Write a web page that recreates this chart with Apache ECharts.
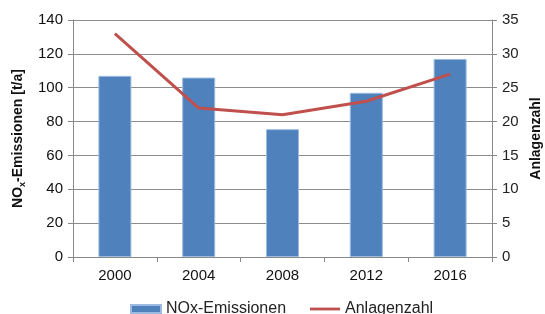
<!DOCTYPE html>
<html>
<head>
    <meta charset="utf-8">
    <script src="https://cdn.jsdelivr.net/npm/echarts@6/dist/echarts.min.js"></script>
</head>
<body style="margin:0;background:#fff;">

<div id="main" style="width:545px;height:314px;"></div>

<script type="text/javascript">
    var years = ['2000', '2004', '2008', '2012', '2016'];
    var noxValues = [107, 106, 75.5, 97, 117];
    var anlagenValues = [33, 22, 21, 23, 27];

    var myChart = echarts.init(document.getElementById('main'));
    var fontFam = 'Liberation Sans, Arial, sans-serif';

    var option = {
        animation: false,
        textStyle: { fontFamily: fontFam },
        grid: { left: 73, right: 53, top: 20, bottom: 57, outerBoundsMode: 'none' },
        legend: {
            top: 296,
            left: 125,
            itemGap: 24,
            itemWidth: 30,
            itemHeight: 8,
            textStyle: { fontSize: 16, color: '#222', fontFamily: fontFam },
            data: [
                { name: 'NOx-Emissionen', icon: 'rect' },
                // thin line icon, the extra points keep the full 30x8 box
                { name: 'Anlagenzahl', icon: 'path://M0,0L0,0M0,2.6h30v2.8h-30zM30,8L30,8' }
            ]
        },
        xAxis: {
            type: 'category',
            data: years,
            axisLine: { lineStyle: { color: '#888' } },
            axisTick: { show: true, length: 5, lineStyle: { color: '#888' } },
            axisLabel: { color: '#111', fontSize: 15, margin: 11 }
        },
        yAxis: [
            {
                type: 'value',
                min: 0, max: 140, interval: 20,
                name: 'NO{sub|x}-Emissionen [t/a]',
                nameLocation: 'middle',
                nameRotate: 90,
                nameGap: 45,
                nameTextStyle: {
                    fontSize: 14, fontWeight: 'bold', color: '#111',
                    rich: { sub: { fontSize: 9, fontWeight: 'bold', verticalAlign: 'bottom', padding: [8, 0, 0, 0] } }
                },
                axisLine: { show: true, lineStyle: { color: '#888' } },
                axisTick: { show: true, length: 5, lineStyle: { color: '#888' } },
                axisLabel: { color: '#111', fontSize: 15, margin: 10 },
                splitLine: { lineStyle: { color: '#8c8c8c' } }
            },
            {
                type: 'value',
                min: 0, max: 35, interval: 5,
                name: 'Anlagenzahl',
                nameLocation: 'middle',
                nameRotate: 90,
                nameGap: 37,
                nameTextStyle: { fontSize: 14, fontWeight: 'bold', color: '#111' },
                axisLine: { show: true, lineStyle: { color: '#888' } },
                axisTick: { show: true, length: 5, lineStyle: { color: '#888' } },
                axisLabel: { color: '#222', fontSize: 15, margin: 10 },
                splitLine: { show: false }
            }
        ],
        series: [
            {
                name: 'NOx-Emissionen',
                type: 'bar',
                data: noxValues,
                barWidth: 33,
                itemStyle: { color: '#4f81bd', borderColor: '#9bbbe0', borderWidth: 1 }
            },
            {
                name: 'Anlagenzahl',
                type: 'line',
                yAxisIndex: 1,
                data: anlagenValues,
                symbol: 'none',
                lineStyle: { color: '#c0504d', width: 3 },
                itemStyle: { color: '#c0504d' }
            }
        ]
    };

    myChart.setOption(option);
</script>

</body>
</html>
